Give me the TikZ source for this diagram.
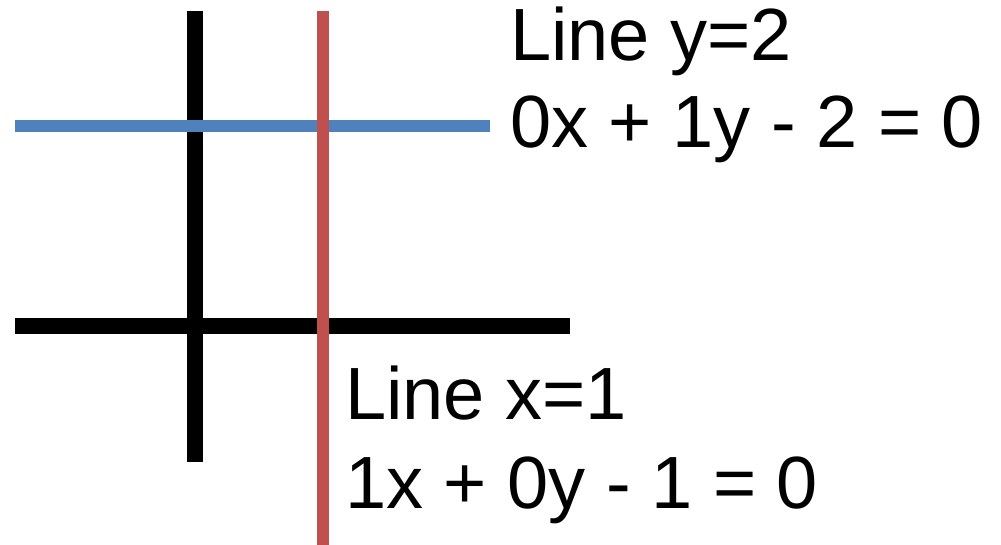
\documentclass[tikz,border=0pt]{standalone}
\usepackage{fontspec}
\setmainfont{Liberation Sans}
\usepackage{tikz}
\usetikzlibrary{positioning}
\definecolor{lineblue}{RGB}{79,129,189}
\definecolor{linered}{RGB}{192,80,77}
\tikzset{
  axisline/.style={black, line width=16pt},
  graphline/.style={line width=12pt},
  eqlabel/.style={font=\fontsize{74}{88}\selectfont, inner sep=0pt, anchor=base west}
}
\begin{document}
\begin{tikzpicture}[x=1pt, y=-1pt]
% Canvas
\useasboundingbox (0,0) rectangle (1001,545);

% Axes
\draw[axisline] (195,11) -- (195,462);
\draw[axisline] (15,326) -- (570,326);

% Line y=2
\draw[graphline, lineblue] (15,126.5) -- (490,126.5);
% Line x=1
\draw[graphline, linered] (323,11) -- (323,545);

% Labels
\node[eqlabel] (ytitle) at (510,61) {Line y=2};
\node[eqlabel] (yeq) at (510,148) {0x + 1y - 2 = 0};
\node[eqlabel] (xtitle) at (345,419) {Line x=1};
\node[eqlabel] (xeq) at (345,508) {1x + 0y - 1 = 0};
\end{tikzpicture}
\end{document}
